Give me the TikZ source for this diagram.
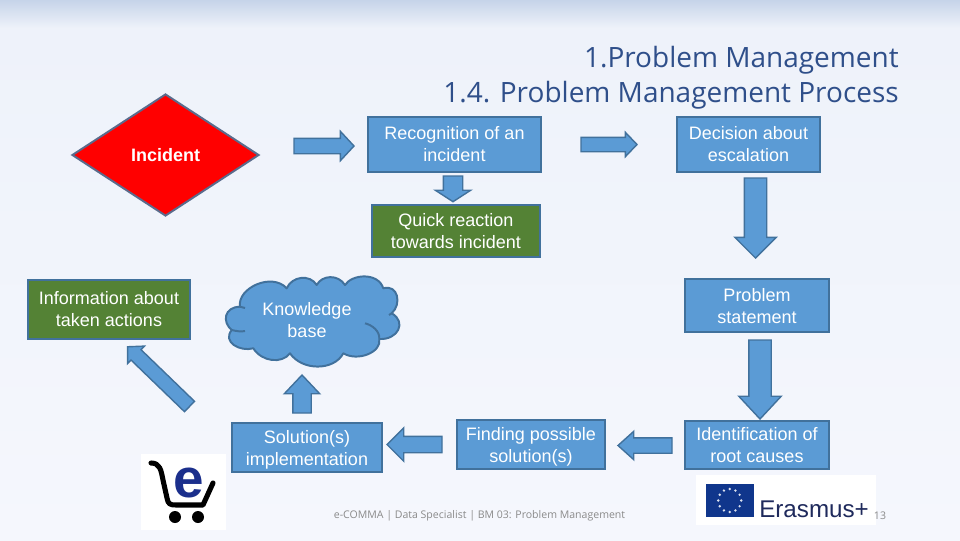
\documentclass[tikz,border=0pt]{standalone}
\usepackage{fontspec}
\setmainfont{Liberation Sans}
\newfontfamily\titlefont{Open Sans}
\usetikzlibrary{shapes.geometric,shapes.arrows}
\definecolor{boxblue}{HTML}{5B9BD5}
\definecolor{boxline}{HTML}{41719C}
\definecolor{boxgreen}{HTML}{548235}
\definecolor{diamondline}{HTML}{5A6B8C}
\definecolor{titleblue}{HTML}{2F4F8A}
\definecolor{bandtop}{HTML}{C6D4E9}
\definecolor{bandlow}{HTML}{EEF2FA}
\definecolor{pagelow}{HTML}{F5F7FD}
\definecolor{flagblue}{HTML}{10368C}
\definecolor{erasmusink}{HTML}{1F2A5C}
\definecolor{footgrey}{HTML}{8A8A8A}
\definecolor{cartblue}{HTML}{1B2F8C}
\tikzset{
  stepbox/.style={draw=boxline, line width=1.4pt, fill=boxblue, text=white, align=center, inner sep=0pt, font=\fontsize{12.8}{15.6}\selectfont, text height=24.2pt},
  greenbox/.style={stepbox, fill=boxgreen},
  textdown/.style={text height=24.2pt+#1*1.42pt},
  blockarrow/.style n args={4}{single arrow, draw=boxline, line width=1pt, fill=boxblue, anchor=tail, outer sep=0pt,
    minimum height=#1*0.025cm, inner sep=#2*0.0125cm, single arrow head extend=(#3-#2)*0.0125cm, single arrow tip angle={2*atan(#3/2/#4)}}
}
\begin{document}
\begin{tikzpicture}[x=0.025cm,y=-0.025cm]
\useasboundingbox (0,0) rectangle (960,540);
\shade[top color=bandtop, bottom color=bandlow] (0,0) rectangle (960,28);
\shade[top color=bandlow, bottom color=pagelow] (0,28) rectangle (960,540);
\node (title) [anchor=east, align=right, inner sep=0pt, text=titleblue, font=\titlefont\fontsize{19.9}{24.9}\selectfont] at (899,78) {1.Problem Management\\1.4. Problem Management Process};
\node (incident) [diamond, draw=diamondline, line width=1.4pt, fill=red, aspect=1.53, minimum width=187*0.025cm, minimum height=122*0.025cm, inner sep=0pt, text=white, font=\fontsize{12.8}{15}\selectfont\bfseries] at (165.5,155) {Incident};
\node (recognition) [stepbox, minimum width=173*0.025cm, minimum height=55*0.025cm] at (454.5,144.5) {Recognition of an\\incident};
\node (decision) [stepbox, minimum width=143*0.025cm, minimum height=55*0.025cm] at (748.5,144.5) {Decision about\\escalation};
\node (reaction) [greenbox, textdown=1, minimum width=168*0.025cm, minimum height=52*0.025cm] at (456,231) {Quick reaction\\towards incident};
\node (information) [greenbox, minimum width=162*0.025cm, minimum height=59*0.025cm] at (109,309.5) {Information about\\taken actions};
\node (statement) [stepbox, textdown=1, minimum width=144*0.025cm, minimum height=53*0.025cm] at (757,305.5) {Problem\\statement};
\node (implementation) [stepbox, textdown=3, minimum width=150*0.025cm, minimum height=49*0.025cm] at (307,447.5) {Solution(s)\\implementation};
\node (finding) [stepbox, textdown=3, minimum width=148*0.025cm, minimum height=49*0.025cm] at (531,444.5) {Finding possible\\solution(s)};
\node (causes) [stepbox, textdown=1, minimum width=144*0.025cm, minimum height=48*0.025cm] at (757,445) {Identification of\\root causes};
\draw[boxline, line width=1.4pt, fill=boxblue, line join=round] (240,306.7) .. controls (237,288) and (272,272) .. (286.7,288.3) .. controls (292,276) and (310,274) .. (316.7,285) .. controls (322,275) and (338,274) .. (345,285) .. controls (352,274) and (378,272) .. (383.3,288.3) .. controls (398,284) and (402,304) .. (391.7,313.3) .. controls (407,322) and (398,340) .. (379.3,339) .. controls (382,352) and (358,362) .. (343.3,353.3) .. controls (334,371) and (302,371) .. (290,353.3) .. controls (282,364) and (262,362) .. (253.3,348.3) .. controls (240,352) and (222,342) .. (231.7,330) .. controls (222,322) and (224,307) .. cycle;
\draw[boxline, line width=1.4pt] (231.7,330) .. controls (236,331) and (241,332) .. (245,331);
\draw[boxline, line width=1.4pt] (365,323.3) .. controls (372,325) and (380,331) .. (379.3,339);
\draw[boxline, line width=1.4pt] (391.7,313.3) -- (389,315);
\draw[boxline, line width=1.4pt] (240,306.7) -- (245,308);
\node (knowledge) [text=white, align=center, inner sep=0pt, font=\fontsize{12.8}{15.6}\selectfont] at (307,320) {Knowledge\\base};
\node (a1) [blockarrow={60}{14}{28}{13}] at (294,146) {};
\node (a2) [blockarrow={56}{13}{23}{11}] at (581,144.5) {};
\node (a3) [blockarrow={24}{18}{34}{11}, rotate=-90] at (453,176) {};
\node (a4) [blockarrow={80}{21}{40}{20}, rotate=-90] at (755.5,178) {};
\node (a5) [blockarrow={79}{21}{41}{22}, rotate=-90] at (760,340) {};
\node (a6) [blockarrow={54}{14}{27}{15}, rotate=180] at (672,445.5) {};
\node (a7) [blockarrow={55}{15}{32}{16}, rotate=180] at (442,444.5) {};
\node (a8) [blockarrow={38}{17}{34}{18}, rotate=90] at (302,413) {};
\node (a9) [blockarrow={86}{13}{23}{11}, rotate=136] at (189.5,406.5) {};
\fill[white] (141,454) rectangle (226,530);
\draw[line width=3.6pt, line cap=round, line join=round] (151,463) .. controls (160,463) and (161,470) .. (163,480) -- (167,498) .. controls (168,504) and (170,505) .. (176,505) -- (203,505) -- (213,483);
\fill (175,517) circle (6);
\fill (198,517) circle (6);
\node (cart) [text=cartblue, inner sep=0pt, font=\fontsize{39}{39}\selectfont\bfseries] at (189,483) {e};
\fill[white] (696,475) rectangle (876,525);
\fill[flagblue] (705.5,484) rectangle (754,517);
\foreach \a in {0,30,...,330} \fill[white!85!flagblue] (729.7,500.5) ++(\a:11.5) circle (1.3);
\node (erasmus) [anchor=base west, text=erasmusink, inner sep=0pt, font=\fontsize{17.2}{20}\selectfont] at (759,517) {Erasmus+};
\node (footer) [text=footgrey, inner sep=0pt, font=\titlefont\fontsize{7.5}{10}\selectfont] at (479.5,516) {e-COMMA | Data Specialist | BM 03: Problem Management};
\node (page) [text=footgrey, inner sep=0pt, font=\titlefont\fontsize{7.5}{10}\selectfont] at (880,516) {13};
\end{tikzpicture}
\end{document}
